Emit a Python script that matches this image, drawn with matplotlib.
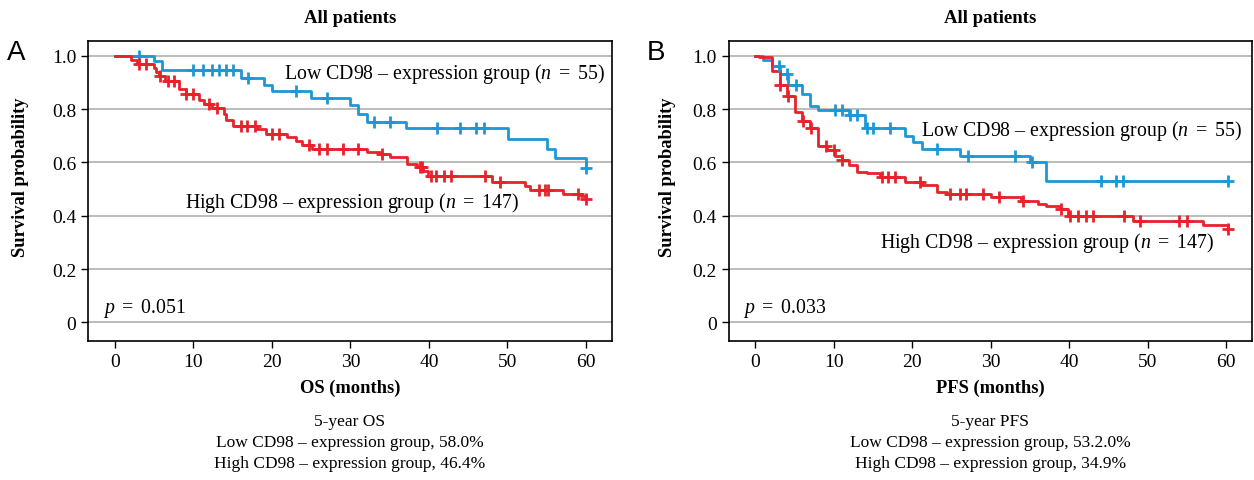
import numpy as np
import matplotlib
matplotlib.use("Agg")
import matplotlib.pyplot as plt

plt.rcParams['font.family'] = ['Liberation Serif', 'DejaVu Serif']
plt.rcParams['mathtext.fontset'] = 'custom'
plt.rcParams['mathtext.rm'] = 'Liberation Serif'
plt.rcParams['mathtext.it'] = 'Liberation Serif:italic'

# ---- OS (panel A) ----
os_low_t = [0, 5.0, 6.0, 16.0, 19.0, 20.0, 25.0, 30.0, 31.0, 32.1, 37.1, 50.1, 55.1, 56.1, 60.0]
os_low_s = [1.0, 0.982, 0.945, 0.918, 0.889, 0.868, 0.841, 0.816, 0.783, 0.753, 0.729, 0.689, 0.652, 0.618, 0.579]
os_low_cens = [3.0, 10.0, 11.2, 12.3, 13.2, 14.2, 15.1, 17.0, 23.1, 27.0, 33.0, 35.0,
               41.0, 44.0, 46.0, 47.0, 60.0]

os_high_t = [0, 2.0, 2.8, 5.0, 5.2, 5.6, 6.4, 8.1, 9.0, 10.7, 11.3, 12.4, 13.9, 14.1,
             15.1, 18.1, 19.2, 21.9, 23.0, 23.8, 25.1, 32.1, 33.8, 35.1, 37.2, 38.5,
             39.3, 39.9, 48.0, 52.3, 52.9, 57.1, 59.4, 60.0]
os_high_s = [1.0, 0.986, 0.97, 0.955, 0.94, 0.925, 0.905, 0.875, 0.855, 0.835, 0.82,
             0.805, 0.78, 0.76, 0.738, 0.725, 0.708, 0.695, 0.68, 0.665, 0.65, 0.64,
             0.631, 0.622, 0.595, 0.583, 0.569, 0.548, 0.525, 0.51, 0.497, 0.481,
             0.475, 0.464]
os_high_cens = [3.0, 4.0, 5.8, 6.7, 7.5, 9.0, 10.0, 12.0, 13.0, 16.0, 16.8, 17.9, 20.0,
                20.9, 24.7, 26.0, 27.0, 29.1, 31.0, 34.0, 38.9, 39.1, 40.2, 40.9,
                41.9, 42.8, 47.1, 49.0, 54.0, 54.8, 55.2, 59.0, 60.0]

# ---- PFS (panel B) ----
pfs_low_t = [0, 1.0, 2.1, 3.1, 4.2, 5.9, 7.0, 8.0, 11.9, 14.0, 19.1, 20.1, 21.2, 26.1,
             35.0, 37.1, 60.2]
pfs_low_s = [1.0, 0.985, 0.963, 0.93, 0.89, 0.856, 0.813, 0.798, 0.778, 0.73, 0.70,
             0.675, 0.65, 0.625, 0.60, 0.531, 0.531]
pfs_low_cens = [3.0, 4.0, 5.2, 10.2, 11.1, 12.1, 13.0, 14.2, 15.0, 17.2, 23.1, 27.1,
                33.1, 35.2, 44.1, 46.0, 46.9, 60.2]

pfs_high_t = [0, 0.5, 2.1, 3.1, 4.0, 5.1, 5.9, 7.0, 8.0, 9.1, 10.2, 11.0, 11.9, 12.9,
              14.2, 15.9, 19.1, 21.2, 23.1, 24.4, 30.0, 33.9, 36.0, 37.1, 38.8, 39.9,
              48.1, 57.0, 60.2]
pfs_high_s = [1.0, 0.994, 0.944, 0.89, 0.85, 0.79, 0.755, 0.73, 0.66, 0.645, 0.625,
              0.61, 0.59, 0.565, 0.56, 0.545, 0.525, 0.515, 0.49, 0.481, 0.472, 0.456,
              0.444, 0.435, 0.425, 0.40, 0.381, 0.365, 0.349]
pfs_high_cens = [3.1, 4.2, 6.1, 7.1, 9.0, 10.0, 11.0, 16.1, 16.9, 17.8, 21.0, 24.8,
                 26.1, 26.9, 29.0, 31.1, 34.1, 39.0, 40.1, 41.1, 42.1, 43.0, 47.0,
                 49.0, 54.0, 55.0, 60.2]

blue = '#1b98d6'
red = '#e8212b'

panels = [
    dict(letter='A', low=(os_low_t, os_low_s, os_low_cens), high=(os_high_t, os_high_s, os_high_cens),
         p='0.051', xlabel='OS (months)', name='OS', low_pct='58.0%', high_pct='46.4%',
         low_xy=(21.5, 0.935), high_xy=(8.9, 0.451), left=0.0704, ylab_x=-0.13),
    dict(letter='B', low=(pfs_low_t, pfs_low_s, pfs_low_cens), high=(pfs_high_t, pfs_high_s, pfs_high_cens),
         p='0.033', xlabel='PFS (months)', name='PFS', low_pct='53.2.0%', high_pct='34.9%',
         low_xy=(21.1, 0.721), high_xy=(15.9, 0.30), left=0.581, ylab_x=-0.117),
]


def surv_at(times, surv, x):
    idx = np.searchsorted(times, x, side='right') - 1
    return np.array(surv)[idx]


fig = plt.figure(figsize=(12.54, 4.81), dpi=100)
ax_w, ax_b, ax_h = 0.4175, 0.289, 0.624

for pn in panels:
    ax = fig.add_axes([pn['left'], ax_b, ax_w, ax_h])
    for (t, s, c), col in [(pn['low'], blue), (pn['high'], red)]:
        ax.step(t, s, where='post', color=col, linewidth=2, zorder=3)
        ax.plot(c, surv_at(t, s, c), linestyle='none', marker='+', markersize=9,
                markeredgewidth=2, color=col, zorder=4)

    ax.set_xlim(-3.4, 63.3)
    ax.set_ylim(-0.07, 1.056)
    ax.set_xticks(np.arange(0, 61, 10))
    ax.set_yticks(np.arange(0, 1.01, 0.2))
    ax.set_yticklabels(['0', '0.2', '0.4', '0.6', '0.8', '1.0'])
    ax.tick_params(labelsize=14, length=5, width=1)
    ax.grid(axis='y', color='#b0b0b0', linewidth=1.2)
    ax.set_axisbelow(True)
    for sp in ax.spines.values():
        sp.set_linewidth(1.2)

    ax.text(0.5, 1 + (41.7 - 18) / 300, 'All patients', transform=ax.transAxes,
            fontsize=13.5, fontweight='bold', ha='center', va='center')
    ax.set_xlabel(pn['xlabel'], fontsize=13.3, fontweight='bold', va='center')
    ax.xaxis.set_label_coords(0.5, -0.153)
    ax.set_ylabel('Survival probability', fontsize=13.3, fontweight='bold', va='center')
    ax.yaxis.set_label_coords(pn['ylab_x'], 0.55)

    ax.text(pn['low_xy'][0], pn['low_xy'][1], r'Low CD98 – expression group ($n\ =\ 55$)',
            fontsize=14.3, va='center', ha='left')
    ax.text(pn['high_xy'][0], pn['high_xy'][1], r'High CD98 – expression group ($n\ =\ 147$)',
            fontsize=14.3, va='center', ha='left')
    ax.text(-1.5, 0.054, r'$p\ =\ ' + pn['p'] + '$', fontsize=14.3, va='center', ha='left')

    cx = pn['left'] + ax_w / 2
    fig.text(cx, 1 - 422 / 481, '5-year ' + pn['name'], fontsize=12.5, ha='center', va='center')
    fig.text(cx, 1 - 443 / 481, 'Low CD98 – expression group, ' + pn['low_pct'],
             fontsize=12.5, ha='center', va='center')
    fig.text(cx, 1 - 464 / 481, 'High CD98 – expression group, ' + pn['high_pct'],
             fontsize=12.5, ha='center', va='center')

    fig.text(pn['left'] - 0.0576, 1 - 53 / 481, pn['letter'], fontsize=20,
             family='Liberation Sans', ha='center', va='center')

fig.savefig('out.png', dpi=100)
